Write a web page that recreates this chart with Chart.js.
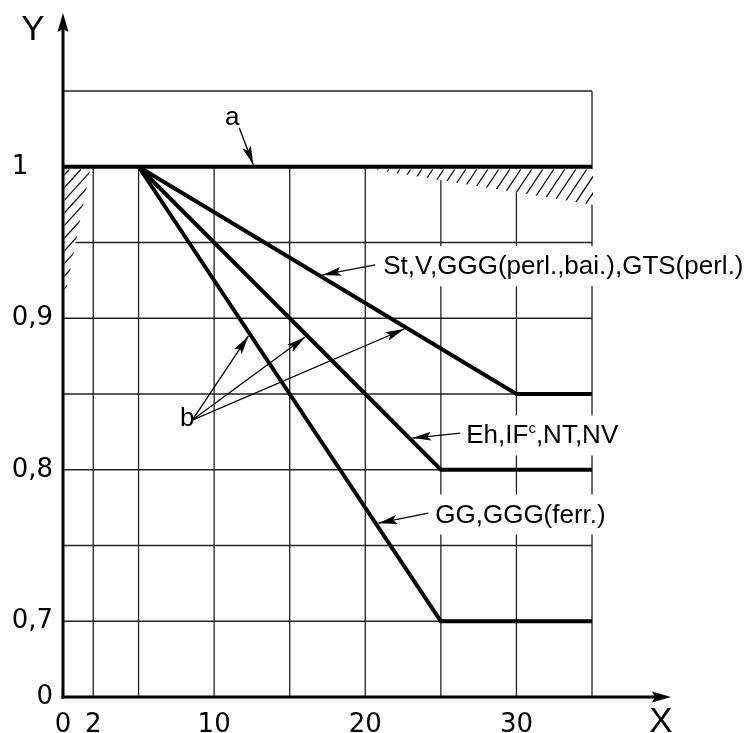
<!DOCTYPE html>
<html>
<head>
<meta charset="utf-8">
<script src="https://cdn.jsdelivr.net/npm/chart.js@4.4.1/dist/chart.umd.min.js"></script>
<style>
html,body{margin:0;padding:0;background:#fff;}
#wrap{width:751px;height:733px;position:relative;}
</style>
</head>
<body>
<div id="wrap"><canvas id="c" width="751" height="733"></canvas></div>
<script>
// ---- data ----
const xTickValues = [0, 2, 5, 10, 15, 20, 25, 30, 35];
const xTickLabels = ['0', '2', '', '10', '', '20', '', '30', ''];
// broken axis: the bottom gridline position carries the "0" label
const yTickValues = [0.65, 0.7, 0.75, 0.8, 0.85, 0.9, 0.95, 1.0, 1.05];
const yTickLabels = ['0', '0,7', '', '0,8', '', '0,9', '', '1   ', ''];

const aX  = [0, 35];       const aY  = [1, 1];
const stX = [5, 30, 35];   const stY = [1, 0.85, 0.85];
const ehX = [5, 25, 35];   const ehY = [1, 0.8, 0.8];
const ggX = [5, 25, 35];   const ggY = [1, 0.7, 0.7];

const stLabel = 'St,V,GGG(perl.,bai.),GTS(perl.)';
const ehLabel = ['Eh,IF', 'c', ',NT,NV'];
const ggLabel = 'GG,GGG(ferr.)';
const aLabel = 'a';
const bLabel = 'b';
const xName = 'X';
const yName = 'Y';

// ---- annotation placement (data coordinates) ----
const stNote = {tx: 21.19, ty: 0.9352, from: [20.66, 0.9352], to: [17.16, 0.9286]};
const ehNote = {tx: 26.68, ty: 0.8235, from: [26.29, 0.8242], to: [23.11, 0.8209]};
const ggNote = {tx: 24.63, ty: 0.7713, from: [24.17, 0.7713], to: [20.86, 0.7647]};
const aNote  = {tx: 11.2, ty: 1.0324, from: [11.66, 1.0258], to: [12.59, 1.0013]};
const bNote  = {tx: 8.22, ty: 0.8334, from: [8.555, 0.8328],
                tos: [[12.27, 0.8883], [16.03, 0.8876], [22.58, 0.8929]]};
const hatchTop  = {x0: 20.5, x1: 35, yDepth: 0.975};
const hatchLeft = {x1: 1.8, yDepth: 0.913};

const TXT = '26px "Liberation Sans", Arial, sans-serif';
const GRID = '#222';

function ds(xs, ys) {
  return {
    data: xs.map((x, i) => ({x: x, y: ys[i]})),
    borderColor: '#000', backgroundColor: '#000', borderWidth: 4,
    pointRadius: 0, fill: false, tension: 0, clip: false,
    borderCapStyle: 'butt', borderJoinStyle: 'miter'
  };
}

function arrowHead(ctx, x0, y0, x1, y1, L, W, N) {
  const a = Math.atan2(y1 - y0, x1 - x0), ux = Math.cos(a), uy = Math.sin(a);
  ctx.beginPath();
  ctx.moveTo(x1, y1);
  ctx.lineTo(x1 - ux * L - uy * W, y1 - uy * L + ux * W);
  ctx.lineTo(x1 - ux * N, y1 - uy * N);
  ctx.lineTo(x1 - ux * L + uy * W, y1 - uy * L - ux * W);
  ctx.closePath();
  ctx.fill();
}
function arrow(ctx, x0, y0, x1, y1) {
  ctx.beginPath(); ctx.moveTo(x0, y0); ctx.lineTo(x1, y1);
  ctx.lineWidth = 1.3; ctx.strokeStyle = '#000'; ctx.stroke();
  ctx.fillStyle = '#000';
  arrowHead(ctx, x0, y0, x1, y1, 19, 4.5, 15);
}

// slope = vertical drop per horizontal px of each "/" stroke
function hatch(ctx, poly, slope, step) {
  ctx.save();
  ctx.beginPath();
  poly.forEach((p, i) => i ? ctx.lineTo(p[0], p[1]) : ctx.moveTo(p[0], p[1]));
  ctx.closePath();
  ctx.fillStyle = '#fff'; ctx.fill();
  ctx.clip();
  const xs = poly.map(p => p[0]), ys = poly.map(p => p[1]);
  const minX = Math.min(...xs), maxX = Math.max(...xs), minY = Math.min(...ys), maxY = Math.max(...ys);
  const D = (maxY - minY) / slope + 2;
  ctx.strokeStyle = '#111'; ctx.lineWidth = 1.3;
  for (let x = minX + 5; x < maxX + D; x += step) {
    ctx.beginPath(); ctx.moveTo(x, minY); ctx.lineTo(x - D, minY + D * slope); ctx.stroke();
  }
  ctx.restore();
}

function labelParts(ctx, parts, x, yMid) {
  const base = yMid + 9.3;
  let w = 0;
  parts.forEach(p => { ctx.font = p.sup ? '15px "Liberation Sans", Arial, sans-serif' : TXT; w += ctx.measureText(p.t).width; });
  ctx.fillStyle = '#fff';
  ctx.fillRect(x - 4, base - 28, w + 8, 40);
  ctx.fillStyle = '#000';
  ctx.textAlign = 'left'; ctx.textBaseline = 'alphabetic';
  let cx = x;
  parts.forEach(p => {
    ctx.font = p.sup ? '15px "Liberation Sans", Arial, sans-serif' : TXT;
    ctx.fillText(p.t, cx, p.sup ? base - 10 : base);
    cx += ctx.measureText(p.t).width;
  });
}

const decor = {
  id: 'decor',
  beforeDatasetsDraw(chart) {
    const ctx = chart.ctx, xs = chart.scales.x, ys = chart.scales.y;
    const px = v => xs.getPixelForValue(v), py = v => ys.getPixelForValue(v);
    ctx.save();
    ctx.strokeStyle = GRID; ctx.lineWidth = 1.3;
    yTickValues.forEach(v => {
      if (v <= ys.min) return;
      ctx.beginPath(); ctx.moveTo(px(0), py(v)); ctx.lineTo(px(35), py(v)); ctx.stroke();
    });
    xTickValues.forEach(v => {
      if (v <= xs.min) return;
      const top = v >= xs.max ? ys.max : 1.0;
      ctx.beginPath(); ctx.moveTo(px(v), py(ys.min)); ctx.lineTo(px(v), py(top)); ctx.stroke();
    });
    const y1 = py(1) + 2.5;
    hatch(ctx, [[px(hatchTop.x0), y1], [px(hatchTop.x1) + 1, y1], [px(hatchTop.x1) + 1, py(hatchTop.yDepth)]], 1.5, 11);
    hatch(ctx, [[px(0) + 1.5, y1], [px(hatchLeft.x1), y1], [px(0) + 1.5, py(hatchLeft.yDepth)]], 1.1, 11.5);
    labelParts(ctx, [{t: stLabel}], px(stNote.tx), py(stNote.ty));
    labelParts(ctx, [{t: ehLabel[0]}, {t: ehLabel[1], sup: true}, {t: ehLabel[2]}], px(ehNote.tx), py(ehNote.ty));
    labelParts(ctx, [{t: ggLabel}], px(ggNote.tx), py(ggNote.ty));
    ctx.restore();
  },
  afterDatasetsDraw(chart) {
    const ctx = chart.ctx, xs = chart.scales.x, ys = chart.scales.y, ca = chart.chartArea;
    const px = v => xs.getPixelForValue(v), py = v => ys.getPixelForValue(v);
    ctx.save();
    const ox = px(0), oy = py(ys.min);
    const yTip = ca.top - 78, xTip = ca.right + 79;
    ctx.strokeStyle = '#000'; ctx.lineWidth = 3; ctx.fillStyle = '#000';
    ctx.beginPath(); ctx.moveTo(ox, oy + 1.5); ctx.lineTo(ox, yTip + 10); ctx.stroke();
    ctx.beginPath(); ctx.moveTo(ox - 1.5, oy); ctx.lineTo(xTip - 10, oy); ctx.stroke();
    arrowHead(ctx, ox, oy, ox, yTip, 19, 5.5, 16);
    arrowHead(ctx, ox, oy, xTip, oy, 19, 5.5, 16);
    ctx.font = '35px "Liberation Sans", Arial, sans-serif';
    ctx.textAlign = 'center'; ctx.textBaseline = 'alphabetic';
    ctx.fillText(yName, ox - 30, ca.top - 51);
    ctx.fillText(xName, xTip - 10, oy + 35);
    arrow(ctx, px(stNote.from[0]), py(stNote.from[1]), px(stNote.to[0]), py(stNote.to[1]));
    arrow(ctx, px(ehNote.from[0]), py(ehNote.from[1]), px(ehNote.to[0]), py(ehNote.to[1]));
    arrow(ctx, px(ggNote.from[0]), py(ggNote.from[1]), px(ggNote.to[0]), py(ggNote.to[1]));
    arrow(ctx, px(aNote.from[0]), py(aNote.from[1]), px(aNote.to[0]), py(aNote.to[1]));
    bNote.tos.forEach(t => arrow(ctx, px(bNote.from[0]), py(bNote.from[1]), px(t[0]), py(t[1])));
    ctx.font = TXT; ctx.textAlign = 'center'; ctx.textBaseline = 'middle'; ctx.fillStyle = '#000';
    ctx.fillText(aLabel, px(aNote.tx), py(aNote.ty));
    ctx.fillText(bLabel, px(bNote.tx), py(bNote.ty));
    ctx.restore();
  }
};

new Chart(document.getElementById('c'), {
  type: 'line',
  data: {datasets: [ds(aX, aY), ds(stX, stY), ds(ehX, ehY), ds(ggX, ggY)]},
  options: {
    responsive: false, animation: false, devicePixelRatio: 1,
    layout: {padding: {left: 0, top: 91, right: 159, bottom: 0}},
    plugins: {legend: {display: false}, tooltip: {enabled: false}},
    scales: {
      x: {
        type: 'linear', min: 0, max: 35,
        afterBuildTicks: s => { s.ticks = xTickValues.map(v => ({value: v})); },
        afterFit: s => { s.height = 36; },
        grid: {display: false}, border: {display: false},
        ticks: {autoSkip: false, maxRotation: 0, minRotation: 0, padding: 5, color: '#000',
                font: {family: 'DejaVu Sans', size: 26},
                callback: v => xTickLabels[xTickValues.indexOf(v)]}
      },
      y: {
        type: 'linear', min: 0.65, max: 1.05,
        afterBuildTicks: s => { s.ticks = yTickValues.map(v => ({value: v})); },
        afterFit: s => { s.width = 63; },
        grid: {display: false}, border: {display: false},
        ticks: {autoSkip: false, padding: 2, color: '#000',
                font: {family: 'DejaVu Sans', size: 26},
                callback: v => yTickLabels[yTickValues.findIndex(t => Math.abs(t - v) < 1e-9)]}
      }
    }
  },
  plugins: [decor]
});
</script>
</body>
</html>
